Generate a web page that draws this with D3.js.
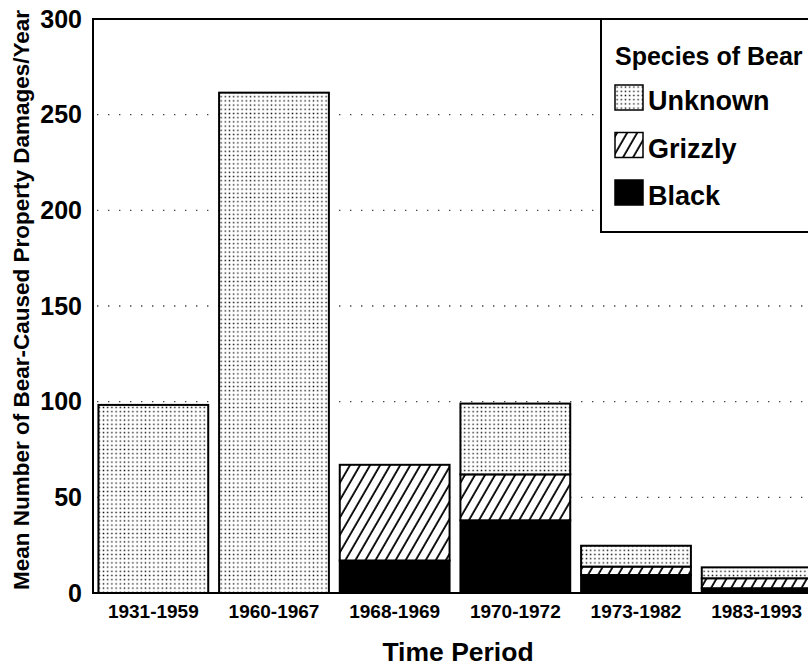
<!DOCTYPE html>
<html>
<head>
<meta charset="utf-8">
<script src="https://cdn.jsdelivr.net/npm/d3@7"></script>
<style>
  body { margin: 0; background: #fff; }
  svg { display: block; font-family: "Liberation Sans", Arial, Helvetica, sans-serif; }
</style>
</head>
<body>
<svg id="chart" width="808" height="667"></svg>
<script>
// data
var periods = ["1931-1959", "1960-1967", "1968-1969", "1970-1972", "1973-1982", "1983-1993"];
var black   = [0, 0, 17, 38, 9.4, 2.5];
var grizzly = [0, 0, 50, 24, 4.4, 5.2];
var unknown = [98.3, 261.5, 0, 37, 10.9, 5.7];
var yTicks  = [0, 50, 100, 150, 200, 250, 300];
var species = ["Unknown", "Grizzly", "Black"];

var rows = periods.map(function (p, i) {
    return { period: p, Black: black[i], Grizzly: grizzly[i], Unknown: unknown[i] };
});

var margin = { top: 19, left: 93 },
    width = 724,   // plot runs past the right edge of the picture
    height = 574;

var svg = d3.select("#chart");

// patterns
var defs = svg.append("defs");
var dots = defs.append("pattern")
    .attr("id", "dots")
    .attr("patternUnits", "userSpaceOnUse")
    .attr("width", 4.2).attr("height", 4.2);
dots.append("rect").attr("width", 4.2).attr("height", 4.2).attr("fill", "#fff");
dots.append("rect").attr("x", 1.4).attr("y", 1.4).attr("width", 1.4).attr("height", 1.4).attr("fill", "#111");

var hatch = defs.append("pattern")
    .attr("id", "hatch")
    .attr("patternUnits", "userSpaceOnUse")
    .attr("width", 8.7).attr("height", 10)
    .attr("patternTransform", "rotate(30)");
hatch.append("rect").attr("width", 8.7).attr("height", 10).attr("fill", "#fff");
hatch.append("line")
    .attr("x1", 2).attr("x2", 2).attr("y1", 0).attr("y2", 10)
    .attr("stroke", "#000").attr("stroke-width", 1.8);

var fills = { Unknown: "url(#dots)", Grizzly: "url(#hatch)", Black: "#000" };

var x = d3.scaleBand()
    .domain(periods)
    .range([0, width])
    .paddingInner(0.09)
    .paddingOuter(0.045);

var y = d3.scaleLinear()
    .domain([0, 300])
    .range([height, 0]);

var g = svg.append("g")
    .attr("transform", "translate(" + margin.left + "," + margin.top + ")");

// dotted gridlines
g.append("g")
    .selectAll("line")
    .data(yTicks.filter(function (d) { return d > 0 && d < 300; }))
    .enter().append("line")
    .attr("x1", 4).attr("x2", width)
    .attr("y1", function (d) { return y(d); })
    .attr("y2", function (d) { return y(d); })
    .attr("stroke", "#444")
    .attr("stroke-width", 1.4)
    .attr("stroke-dasharray", "1.4,9.6");

// stacked bars
var stack = d3.stack().keys(["Black", "Grizzly", "Unknown"]);
var layers = stack(rows);

g.selectAll("g.layer")
    .data(layers)
    .enter().append("g")
    .attr("class", "layer")
    .attr("fill", function (d) { return fills[d.key]; })
    .selectAll("rect")
    .data(function (d) { return d.filter(function (s) { return s[1] - s[0] > 0; }); })
    .enter().append("rect")
    .attr("x", function (d) { return x(d.data.period); })
    .attr("width", x.bandwidth())
    .attr("y", function (d) { return y(d[1]); })
    .attr("height", function (d) { return y(d[0]) - y(d[1]); })
    .attr("stroke", "#000")
    .attr("stroke-width", 2);

// frame: left, top and bottom lines
g.append("path")
    .attr("d", "M" + width + ",0H0V" + height + "H" + width)
    .attr("fill", "none")
    .attr("stroke", "#000")
    .attr("stroke-width", 2);

// y axis labels
var yAxis = g.append("g")
    .call(d3.axisLeft(y).tickValues(yTicks).tickSize(0).tickPadding(11));
yAxis.select(".domain").remove();
yAxis.selectAll("text")
    .attr("fill", "#000")
    .style("font-size", "25px")
    .style("font-weight", "bold")
    .style("font-family", "Liberation Sans, Arial, sans-serif");

// x axis labels
var xAxis = g.append("g")
    .attr("transform", "translate(0," + height + ")")
    .call(d3.axisBottom(x).tickSize(0).tickPadding(12));
xAxis.select(".domain").remove();
xAxis.selectAll("text")
    .attr("fill", "#000")
    .style("font-size", "19px")
    .style("font-weight", "bold")
    .style("font-family", "Liberation Sans, Arial, sans-serif");

// axis titles
svg.append("text")
    .attr("transform", "rotate(-90)")
    .attr("x", -300)
    .attr("y", 29)
    .attr("text-anchor", "middle")
    .style("font-size", "22.5px")
    .style("font-weight", "bold")
    .text("Mean Number of Bear-Caused Property Damages/Year");

svg.append("text")
    .attr("x", 458)
    .attr("y", 661)
    .attr("text-anchor", "middle")
    .style("font-size", "26.5px")
    .style("font-weight", "bold")
    .text("Time Period");

// legend
var legend = svg.append("g").attr("transform", "translate(601,19)");
legend.append("rect")
    .attr("width", 230).attr("height", 213)
    .attr("fill", "#fff")
    .attr("stroke", "#000")
    .attr("stroke-width", 2);
legend.append("text")
    .attr("x", 14).attr("y", 46)
    .style("font-size", "25px")
    .style("font-weight", "bold")
    .text("Species of Bear");

var items = legend.selectAll("g.item")
    .data(species)
    .enter().append("g")
    .attr("class", "item")
    .attr("transform", function (d, i) { return "translate(14," + (66 + i * 47.5) + ")"; });
items.append("rect")
    .attr("width", 28).attr("height", 25)
    .attr("fill", function (d) { return fills[d]; })
    .attr("stroke", "#000")
    .attr("stroke-width", 1.5);
items.append("text")
    .attr("x", 33).attr("y", 25)
    .style("font-size", "27px")
    .style("font-weight", "bold")
    .text(function (d) { return d; });
</script>
</body>
</html>
